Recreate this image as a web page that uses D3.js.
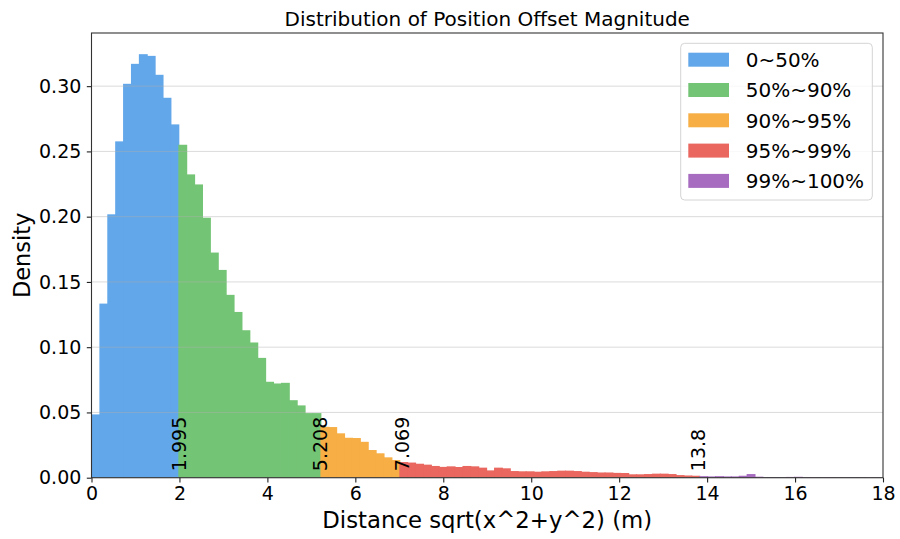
<!DOCTYPE html>
<html>
<head>
<meta charset="utf-8">
<script src="https://cdn.jsdelivr.net/npm/d3@7"></script>
<style>
  body { margin: 0; background: #fff; }
  svg { font-family: "DejaVu Sans", sans-serif; }
</style>
</head>
<body>
<svg width="900" height="539"></svg>
<script>
// histogram: 100 equal bins from 0 to maxDistance
const maxDistance = 17.95;

const density = [
  // 0~50%
  0.0485, 0.1334, 0.2018, 0.2577, 0.3018, 0.3171, 0.3245, 0.3232, 0.3087, 0.2911, 0.2707,
  // 50%~90%
  0.2551, 0.2324, 0.2247, 0.1992, 0.1725, 0.1592, 0.1401, 0.1270, 0.1130, 0.1036,
  0.0918, 0.0735, 0.0722, 0.0727, 0.0594, 0.0554, 0.0495, 0.0495,
  // 90%~95%
  0.0390, 0.0388, 0.0340, 0.0306, 0.0304, 0.0275, 0.0212, 0.0187, 0.0156, 0.0135,
  // 95%~99%
  0.0120, 0.0116, 0.0107, 0.0100, 0.0090, 0.0083, 0.0087, 0.0082, 0.0090, 0.0087,
  0.0077, 0.0056, 0.0077, 0.0072, 0.0051, 0.0049, 0.0049, 0.0046, 0.0049, 0.0051,
  0.0054, 0.0054, 0.0051, 0.0046, 0.0043, 0.0040, 0.0040, 0.0037, 0.0036, 0.0026,
  0.0026, 0.0028, 0.0031, 0.0031, 0.0028, 0.0020, 0.0017, 0.0015,
  // 99%~100%
  0.0012, 0.0010, 0.0012, 0.0010, 0.0010, 0.0015, 0.0028, 0.0008, 0.0005, 0.0005,
  0.0004, 0.0006, 0.0007, 0.0004, 0.0004, 0.0003, 0.0004, 0.0003, 0.0003, 0.0004,
  0.0003, 0.0002, 0.0003
];

const cutoffs = [1.995, 5.208, 7.069, 13.8];
const cutoffLabels = ["1.995", "5.208", "7.069", "13.8"];
const bandLabels = ["0~50%", "50%~90%", "90%~95%", "95%~99%", "99%~100%"];
const bandColors = ["#62a7e9", "#74c476", "#f6ae45", "#e9675f", "#a76cc0"];
const xTicks = [0, 2, 4, 6, 8, 10, 12, 14, 16, 18];
const yTicks = [0, 0.05, 0.10, 0.15, 0.20, 0.25, 0.30];

const svg = d3.select("svg");

const plot = { left: 91.5, right: 883, top: 33, bottom: 477.7 };

const x = d3.scaleLinear().domain([0, 18]).range([plot.left, plot.right]);
const y = d3.scaleLinear()
            .domain([0, d3.max(density) * 1.05])
            .range([plot.bottom, plot.top]);

const binWidth = maxDistance / density.length;
const bins = density.map((d, i) => {
  let x0 = i * binWidth, x1 = (i + 1) * binWidth;
  let center = (x0 + x1) / 2;
  let band = cutoffs.filter((c) => center > c).length;
  return { x0: x0, x1: x1, value: d, band: band };
});

// bars (1px overlap hides antialias seams between neighbours)
svg.append("g")
   .attr("class", "bars")
   .selectAll("rect")
   .data(bins)
   .enter().append("rect")
   .attr("x", (d) => x(d.x0))
   .attr("width", (d, i) => x(d.x1) - x(d.x0) + (i < bins.length - 1 ? 1 : 0))
   .attr("y", (d) => y(d.value))
   .attr("height", (d) => y(0) - y(d.value))
   .attr("fill", (d) => bandColors[d.band]);

// grid (matplotlib draws it above the patches)
svg.append("g")
   .attr("class", "grid")
   .selectAll("line")
   .data(yTicks)
   .enter().append("line")
   .attr("x1", plot.left).attr("x2", plot.right)
   .attr("y1", (d) => y(d)).attr("y2", (d) => y(d))
   .attr("stroke", "#b0b0b0")
   .attr("stroke-opacity", 0.45)
   .attr("stroke-width", 1);

// cutoff labels
svg.append("g")
   .attr("class", "cutoffs")
   .selectAll("text")
   .data(cutoffs)
   .enter().append("text")
   .attr("transform", (d) => `translate(${x(d)},${y(0.005)}) rotate(-90)`)
   .attr("dy", "0.36em")
   .attr("font-size", 19)
   .attr("fill", "#000")
   .text((d, i) => cutoffLabels[i]);

// axes
const xAxis = svg.append("g")
   .attr("transform", `translate(0,${plot.bottom})`)
   .call(d3.axisBottom(x).tickValues(xTicks).tickSize(4.7).tickPadding(4.5).tickFormat(d3.format("d")));

const yAxis = svg.append("g")
   .attr("transform", `translate(${plot.left},0)`)
   .call(d3.axisLeft(y).tickValues(yTicks).tickSize(4.7).tickPadding(5.5).tickFormat(d3.format(".2f")));

[xAxis, yAxis].forEach((a) => {
  a.select(".domain").remove();
  a.selectAll(".tick line").attr("stroke", "#222").attr("stroke-width", 1.1);
  a.selectAll(".tick text")
   .attr("font-size", 19)
   .attr("font-family", "DejaVu Sans")
   .attr("fill", "#000");
});

// frame
svg.append("rect")
   .attr("x", plot.left).attr("y", plot.top)
   .attr("width", plot.right - plot.left)
   .attr("height", plot.bottom - plot.top)
   .attr("fill", "none")
   .attr("stroke", "#333")
   .attr("stroke-width", 1.1);

// title and labels
svg.append("text")
   .attr("x", (plot.left + plot.right) / 2).attr("y", 25.5)
   .attr("text-anchor", "middle")
   .attr("font-size", 20)
   .text("Distribution of Position Offset Magnitude");

svg.append("text")
   .attr("x", (plot.left + plot.right) / 2).attr("y", 528)
   .attr("text-anchor", "middle")
   .attr("font-size", 22.8)
   .text("Distance sqrt(x^2+y^2) (m)");

svg.append("text")
   .attr("transform", `translate(30,${(plot.top + plot.bottom) / 2}) rotate(-90)`)
   .attr("text-anchor", "middle")
   .attr("font-size", 22.5)
   .text("Density");

// legend
const legend = svg.append("g").attr("class", "legend");

legend.append("rect")
   .attr("x", 680.7).attr("y", 43.3)
   .attr("width", 191.6).attr("height", 156.7)
   .attr("rx", 4)
   .attr("fill", "#fff").attr("fill-opacity", 0.8)
   .attr("stroke", "#d4d4d4");

const rows = legend.selectAll("g.row")
   .data(bandLabels)
   .enter().append("g")
   .attr("class", "row")
   .attr("transform", (d, i) => `translate(688.3,${59.7 + i * 30.3})`);

rows.append("rect")
   .attr("x", 0).attr("y", -7)
   .attr("width", 40.7).attr("height", 14)
   .attr("fill", (d, i) => bandColors[i]);

rows.append("text")
   .attr("x", 57.4)
   .attr("dy", "0.36em")
   .attr("font-size", 20)
   .text((d) => d);
</script>
</body>
</html>
